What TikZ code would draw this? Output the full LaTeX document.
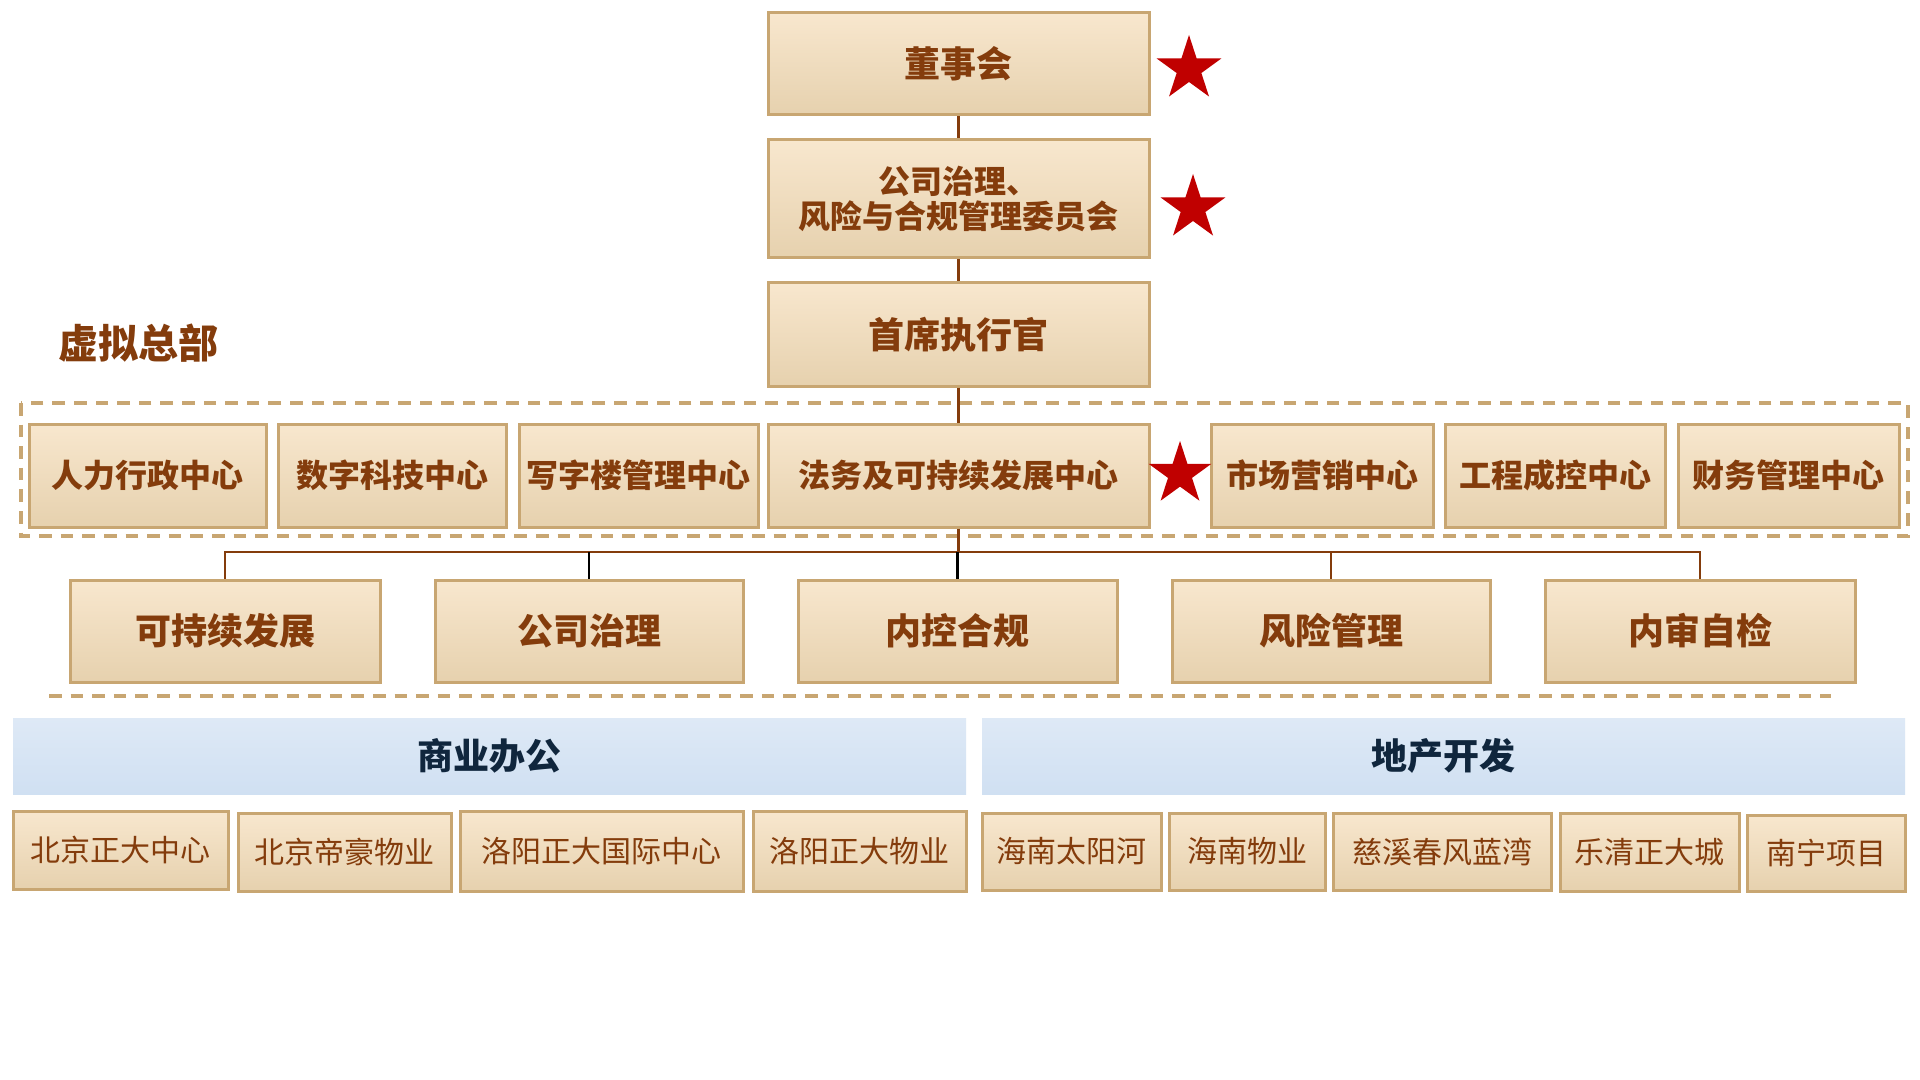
\documentclass[tikz,border=0pt]{standalone}
\usepackage{fontspec}
\newfontfamily\cjk{Noto Sans CJK SC}
\newfontfamily\cjkh{Noto Sans CJK SC Black}
\usetikzlibrary{shapes.geometric}
\definecolor{tanline}{HTML}{C8A672}
\definecolor{boxtop}{HTML}{F8E7CE}
\definecolor{boxbot}{HTML}{E6D1AE}
\definecolor{brn}{HTML}{843C0C}
\definecolor{starred}{HTML}{C00000}
\definecolor{bluetop}{HTML}{DEE9F6}
\definecolor{bluebot}{HTML}{D0E0F2}
\definecolor{navy}{HTML}{10263D}
\begin{document}
\begin{tikzpicture}[x=0.5pt,y=-0.5pt,
 place/.style n args={4}{minimum width={(#2-#1)*0.5pt}, minimum height={(#4-#3)*0.5pt}, at={({(#1+#2)/2},{(#3+#4)/2})}},
 orgbox/.style={draw=tanline, line width=1.5pt, top color=boxtop, bottom color=boxbot, inner sep=0pt, text=brn, align=center, font=\cjkh\fontsize{16pt}{17.5pt}\selectfont},
 bigtext/.style={font=\cjkh\fontsize{18pt}{20pt}\selectfont},
 unitbox/.style={draw=tanline, line width=1.5pt, top color=boxtop, bottom color=boxbot, inner sep=0pt, text=brn, font=\cjk\fontsize{15pt}{17pt}\selectfont},
 bluebar/.style={top color=bluetop, bottom color=bluebot, inner sep=0pt, text=navy, font=\cjkh\fontsize{18pt}{20pt}\selectfont},
 redstar/.style={star, star points=5, star point ratio=2.618, fill=starred, minimum size=34pt, inner sep=0pt},
 conn/.style={draw=brn, line width=1.25pt},
 dconn/.style={draw=black, line width=1.25pt},
 tandash/.style={draw=tanline, line width=2pt, dash pattern=on 6.3pt off 4.5pt}
]
\useasboundingbox[fill=white] (0,0) rectangle (1920,1080);

% dashed frames
\draw[tandash] (21,403) rectangle (1908,536);
\draw[tandash] (49,696) -- (1831,696);

% top chain
\node[orgbox, bigtext, place={768}{1149}{13}{115}] (board) {董事会};
\node[orgbox, place={768}{1149}{140}{258}] (gov) {公司治理、\\风险与合规管理委员会};
\node[orgbox, bigtext, place={768}{1149}{283}{386}] (ceo) {首席执行官};

\node[redstar] (s1) at (1189,69) {};
\node[redstar] (s2) at (1193,208) {};

\node[text=brn, font=\cjkh\fontsize{20pt}{22pt}\selectfont] (vhq) at (138,343) {虚拟总部};

% centres row
\node[orgbox, place={29}{266}{424}{527}] (hr) {人力行政中心};
\node[orgbox, place={278}{506}{424}{527}] (dig) {数字科技中心};
\node[orgbox, place={519}{758}{424}{527}] (ofc) {写字楼管理中心};
\node[orgbox, place={768}{1149}{424}{527}] (legal) {法务及可持续发展中心};
\node[orgbox, place={1211}{1433}{424}{527}] (mkt) {市场营销中心};
\node[orgbox, place={1445}{1665}{424}{527}] (eng) {工程成控中心};
\node[orgbox, place={1678}{1899}{424}{527}] (fin) {财务管理中心};
\node[redstar, minimum size=33pt] (s3) at (1180,474) {};

% functions row
\node[orgbox, bigtext, place={70}{380}{580}{682}] (fa) {可持续发展};
\node[orgbox, bigtext, place={435}{743}{580}{682}] (fb) {公司治理};
\node[orgbox, bigtext, place={798}{1117}{580}{682}] (fc) {内控合规};
\node[orgbox, bigtext, place={1172}{1490}{580}{682}] (fd) {风险管理};
\node[orgbox, bigtext, place={1545}{1855}{580}{682}] (fe) {内审自检};

% connectors
\coordinate (bus) at (958.5,552);
\draw[conn] (board) -- (gov);
\draw[conn] (gov) -- (ceo);
\draw[conn] (ceo) -- (legal);
\draw[conn] (legal.south) -- (bus);
\draw[conn] (fa.north) |- (bus) -| (fe.north);
\draw[dconn] (fb.north) -- (fb.north |- bus);
\draw[dconn] (fc.north) -- (fc.north |- bus);
\draw[conn] (fd.north) -- (fd.north |- bus);

% business bars
\node[bluebar, place={13}{966}{718}{794}] (biz) {商业办公};
\node[bluebar, place={982}{1905}{718}{794}] (dev) {地产开发};

% units
\node[unitbox, place={13}{228}{811}{889}] (u1) {北京正大中心};
\node[unitbox, place={238}{451}{813}{891}] (u2) {北京帝豪物业};
\node[unitbox, place={460}{743}{811}{891}] (u3) {洛阳正大国际中心};
\node[unitbox, place={753}{966}{811}{891}] (u4) {洛阳正大物业};
\node[unitbox, place={982}{1161}{813}{890}] (u5) {海南太阳河};
\node[unitbox, place={1169}{1325}{813}{890}] (u6) {海南物业};
\node[unitbox, place={1333}{1551}{813}{890}] (u7) {慈溪春风蓝湾};
\node[unitbox, place={1560}{1739}{813}{891}] (u8) {乐清正大城};
\node[unitbox, place={1747}{1905}{815}{891}] (u9) {南宁项目};
\end{tikzpicture}
\end{document}
